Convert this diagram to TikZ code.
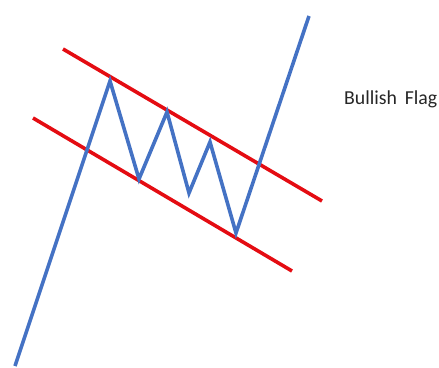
\documentclass[tikz,border=0pt]{standalone}
\usepackage{fontspec}
\setmainfont{Carlito}
\definecolor{pblue}{RGB}{68,114,196}
\definecolor{pred}{RGB}{228,12,18}
\begin{document}
\begin{tikzpicture}[x=1pt,y=-1pt,
  price/.style={draw=pblue,line width=3.6pt,line join=miter,miter limit=10},
  trend/.style={draw=pred,line width=3.6pt},
  lbl/.style={font=\fontsize{19.8}{23}\selectfont,text=black!85,anchor=west,inner sep=0pt}]
\useasboundingbox (0,0) rectangle (439,367);
\coordinate (t1) at (63,49);
\coordinate (t2) at (322,201);
\coordinate (b1) at (33,118);
\coordinate (b2) at (292,271);
\draw[trend] (t1) -- (t2);
\draw[trend] (b1) -- (b2);
\coordinate (p0) at (15,366);
\coordinate (p1) at (110,81);
\coordinate (p2) at (139,179);
\coordinate (p3) at (167,112);
\coordinate (p4) at (189,193);
\coordinate (p5) at (210,142);
\coordinate (p6) at (236,233);
\coordinate (p7) at (309,16);
\draw[price] (p0) -- (p1) -- (p2) -- (p3) -- (p4) -- (p5) -- (p6) -- (p7);
\node[lbl] (label) at (344,99) {Bullish\, Flag};
\end{tikzpicture}
\end{document}
